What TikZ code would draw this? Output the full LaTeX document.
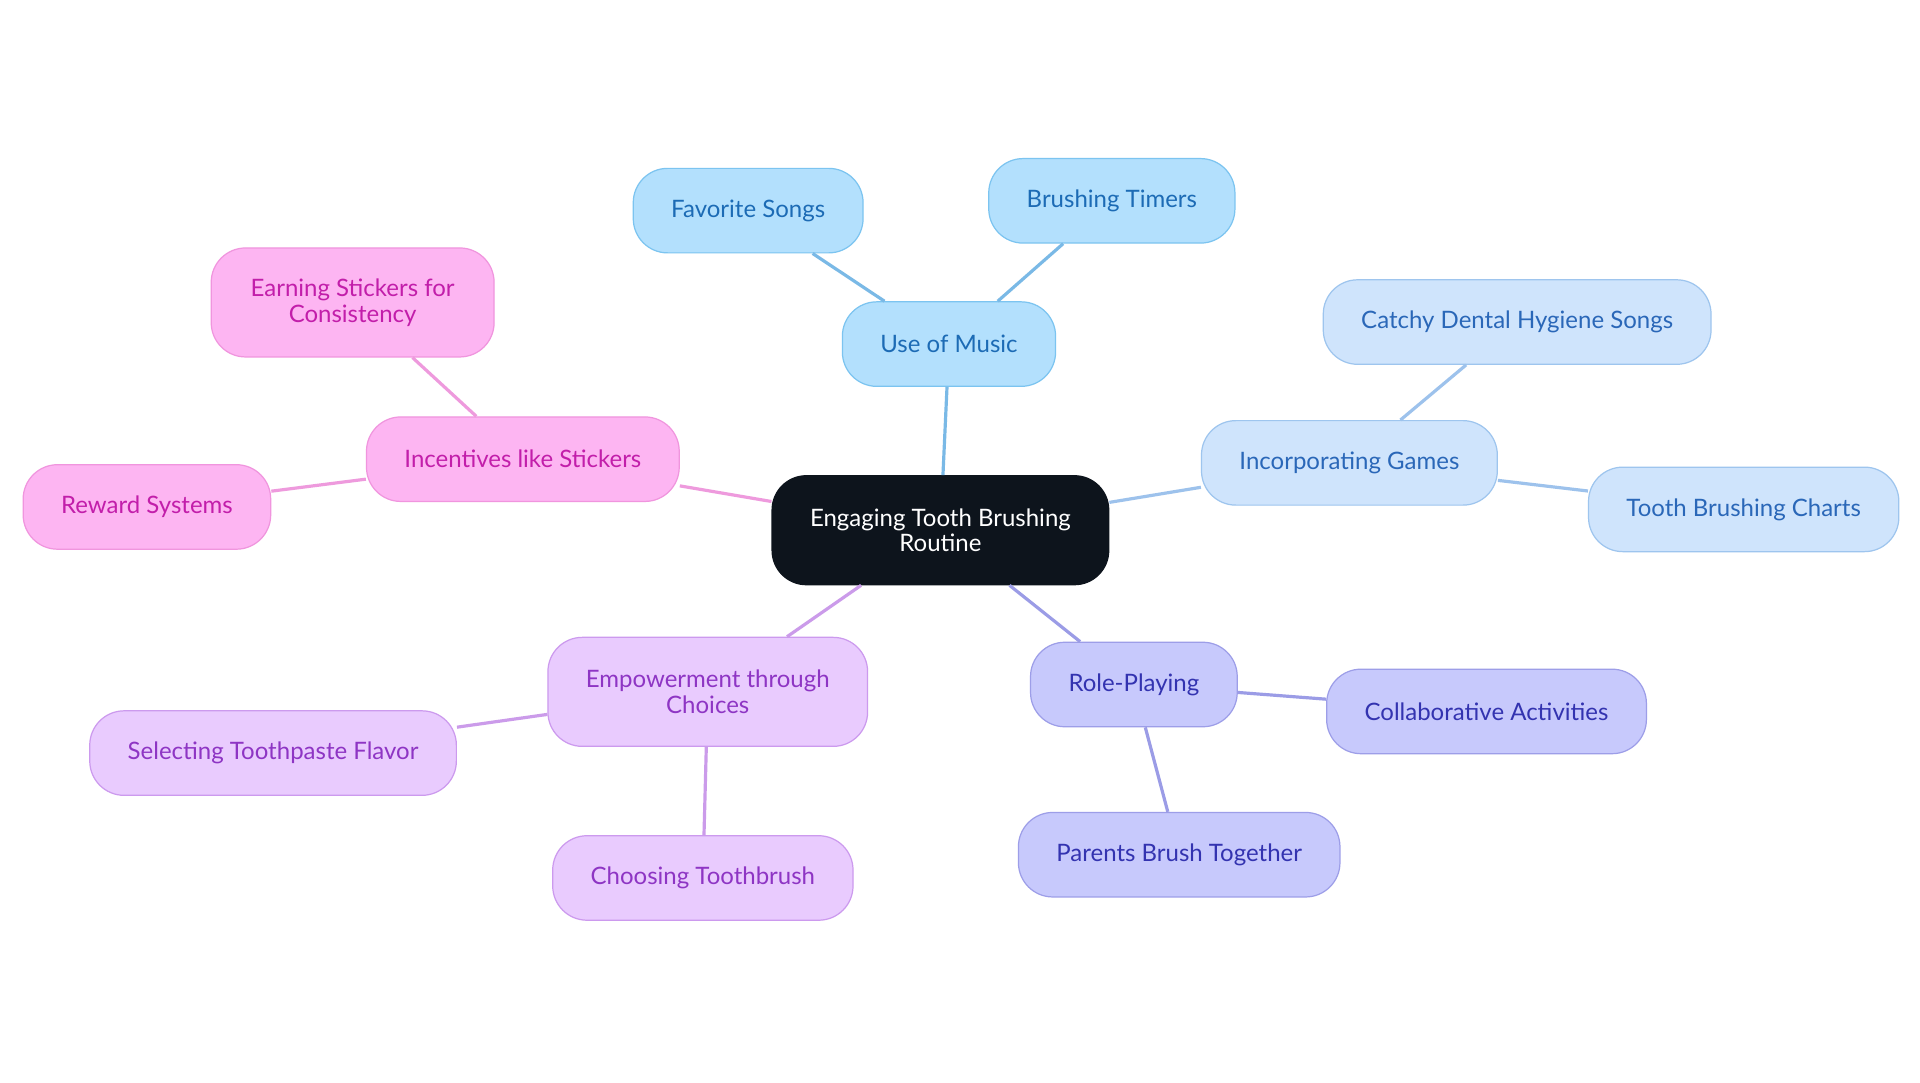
\documentclass[tikz,border=0pt]{standalone}
\usepackage{fontspec}
\setmainfont{Lato}
\definecolor{rootfill}{RGB}{13,20,28}
\definecolor{musicfill}{RGB}{179,224,253}
\definecolor{musicdraw}{RGB}{124,196,240}
\definecolor{musictext}{RGB}{28,107,181}
\definecolor{musicline}{RGB}{122,185,230}
\definecolor{gamesfill}{RGB}{207,228,252}
\definecolor{gamesdraw}{RGB}{158,197,238}
\definecolor{gamestext}{RGB}{42,103,184}
\definecolor{gamesline}{RGB}{157,194,236}
\definecolor{rolefill}{RGB}{199,201,252}
\definecolor{roledraw}{RGB}{157,158,232}
\definecolor{roletext}{RGB}{51,51,176}
\definecolor{roleline}{RGB}{155,156,230}
\definecolor{empfill}{RGB}{233,203,254}
\definecolor{empdraw}{RGB}{204,154,238}
\definecolor{emptext}{RGB}{142,53,196}
\definecolor{empline}{RGB}{203,155,234}
\definecolor{incfill}{RGB}{253,181,242}
\definecolor{incdraw}{RGB}{240,149,222}
\definecolor{inctext}{RGB}{194,30,170}
\definecolor{incline}{RGB}{238,154,221}

\begin{document}
\begin{tikzpicture}[x=0.5pt,y=-0.5pt,
  box/.style={rounded corners=14pt,line width=0.5pt,inner xsep=15.5pt,
    minimum height=34.5pt,align=center,font=\fontsize{9.8}{10.5}\selectfont},
  twobox/.style={box,minimum height=44.5pt},
  music/.style={box,fill=musicfill,draw=musicdraw,text=musictext},
  games/.style={box,fill=gamesfill,draw=gamesdraw,text=gamestext},
  role/.style={box,fill=rolefill,draw=roledraw,text=roletext},
  emp/.style={box,fill=empfill,draw=empdraw,text=emptext},
  inc/.style={box,fill=incfill,draw=incdraw,text=inctext},
  link/.style={line width=1.3pt}]

\useasboundingbox[fill=white] (0,0) rectangle (1568,884.4);

% centre
\node[twobox,fill=rootfill,draw=rootfill,text=white,minimum width=137pt] (root) at (768,433) {Engaging Tooth Brushing\\Routine};

% music
\node[music] (music) at (775,281) {Use of Music};
\node[music] (favsongs) at (611,172) {Favorite Songs};
\node[music] (timers) at (908,164) {Brushing Timers};

% games
\node[games] (games) at (1102,378) {Incorporating Games};
\node[games] (catchy) at (1239,263) {Catchy Dental Hygiene Songs};
\node[games] (charts) at (1424,416) {Tooth Brushing Charts};

% role playing
\node[role] (role) at (926,559) {Role-Playing};
\node[role] (collab) at (1214,581) {Collaborative Activities};
\node[role] (parents) at (963,698) {Parents Brush Together};

% choices
\node[emp,twobox,minimum width=130.5pt] (empower) at (578,565) {Empowerment through\\Choices};
\node[emp] (flavor) at (223,615) {Selecting Toothpaste Flavor};
\node[emp] (toothbrush) at (574,717) {Choosing Toothbrush};

% stickers
\node[inc] (incent) at (427,375) {Incentives like Stickers};
\node[inc,twobox,minimum width=115.5pt] (earning) at (288,247) {Earning Stickers for\\Consistency};
\node[inc] (reward) at (120,414) {Reward Systems};

\draw[link,musicline] (root) -- (music);
\draw[link,musicline] (music) -- (favsongs);
\draw[link,musicline] (music) -- (timers);
\draw[link,gamesline] (root) -- (games);
\draw[link,gamesline] (games) -- (catchy);
\draw[link,gamesline] (games) -- (charts);
\draw[link,roleline] (root) -- (role);
\draw[link,roleline] (role) -- (collab);
\draw[link,roleline] (role) -- (parents);
\draw[link,empline] (root) -- (empower);
\draw[link,empline] (empower) -- (flavor);
\draw[link,empline] (empower) -- (toothbrush);
\draw[link,incline] (root) -- (incent);
\draw[link,incline] (incent) -- (earning);
\draw[link,incline] (incent) -- (reward);

\end{tikzpicture}
\end{document}
